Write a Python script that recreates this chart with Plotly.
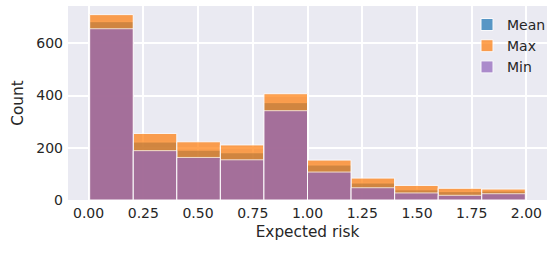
import plotly.graph_objects as go

bin_edges = [0.005, 0.204, 0.403, 0.602, 0.801, 1.0, 1.199, 1.398, 1.597, 1.796, 1.995]
mean_counts = [683, 222, 191, 181, 373, 134, 65, 39, 32, 34]
max_counts = [710, 255, 223, 211, 407, 153, 84, 56, 45, 42]
min_counts = [656, 189, 163, 154, 342, 107, 47, 27, 18, 24]
series_names = ["Mean", "Max", "Min"]
series_colors = ["#1f77b4", "#ff7f0e", "#9467bd"]
x_tickvals = [0, 0.25, 0.5, 0.75, 1.0, 1.25, 1.5, 1.75, 2.0]
x_ticktext = ["0.00", "0.25", "0.50", "0.75", "1.00", "1.25", "1.50", "1.75", "2.00"]
y_tickvals = [0, 200, 400, 600]

centers = [(a + b) / 2 for a, b in zip(bin_edges[:-1], bin_edges[1:])]
widths = [b - a for a, b in zip(bin_edges[:-1], bin_edges[1:])]

FONT = "DejaVu Sans"
TXT = "#262626"

fig = go.Figure()
for name, counts, color in zip(series_names, [mean_counts, max_counts, min_counts], series_colors):
    fig.add_trace(go.Bar(
        x=centers, y=counts, width=widths, name=name, legendgroup=name,
        marker=dict(color=color, line=dict(color="white", width=1)),
        opacity=0.72,
    ))

fig.update_layout(
    width=557, height=255,
    margin=dict(l=68, r=10, t=6, b=55),
    barmode="overlay",
    plot_bgcolor="#eaeaf2", paper_bgcolor="white",
    font=dict(family=FONT, size=14, color=TXT),
    showlegend=True,
    legend=dict(x=0.833, y=0.985, xanchor="left", yanchor="top",
                bgcolor="rgba(0,0,0,0)", font=dict(size=14, family=FONT, color=TXT),
                tracegroupgap=0, itemwidth=30),
    xaxis=dict(range=[-0.094, 2.094], tickvals=x_tickvals, ticktext=x_ticktext,
               showgrid=True, gridcolor="white", gridwidth=1.8, zeroline=False,
               showline=False, ticks="", automargin=False, ticklabelstandoff=3,
               tickfont=dict(size=14, family=FONT, color=TXT),
               title=dict(text="Expected risk", font=dict(size=15.3, family=FONT, color=TXT), standoff=6)),
    yaxis=dict(range=[0, 743], tickvals=y_tickvals,
               showgrid=True, gridcolor="white", gridwidth=1.8, zeroline=False,
               showline=False, ticks="", automargin=False, ticklabelstandoff=4,
               tickfont=dict(size=14, family=FONT, color=TXT),
               title=dict(text="Count", font=dict(size=15.3, family=FONT, color=TXT), standoff=8)),
)

fig.write_html("out.html", config={"displayModeBar": False},
               post_script="document.body.style.margin='0';")
